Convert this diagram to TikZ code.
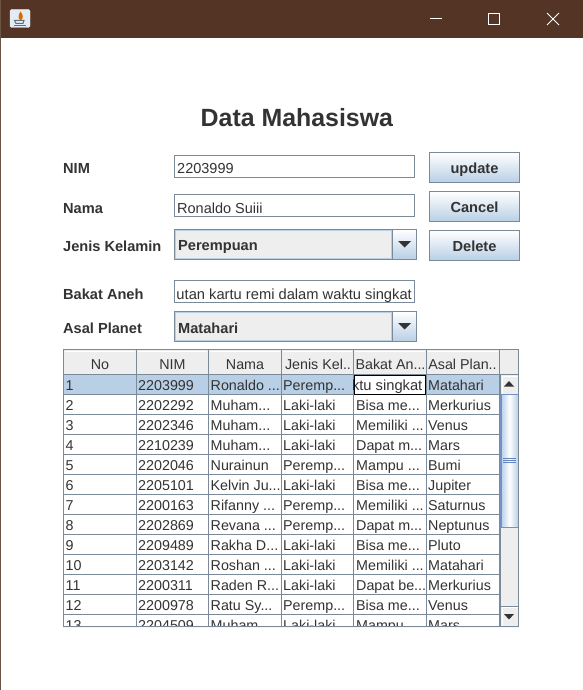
\documentclass[tikz,border=0pt]{standalone}
\usepackage{fontspec}
\setmainfont{Liberation Sans}
\usetikzlibrary{positioning}
\definecolor{barbrown}{HTML}{533425}
\definecolor{metalline}{HTML}{7A8A99}
\definecolor{metalblue}{HTML}{B8CFE5}
\definecolor{metalgray}{HTML}{EEEEEE}
\definecolor{thumbblue}{HTML}{6382BF}
\definecolor{inktext}{HTML}{333333}
\newcommand{\el}{{.}{.}{.}}
\tikzset{
  lbl/.style={inner sep=0pt, anchor=base west, text=inktext, font=\fontsize{14.6}{16}\selectfont\bfseries},
  txt/.style={inner sep=0pt, anchor=base west, text=inktext, font=\fontsize{14.3}{16}\selectfont},
  rtxt/.style={txt, anchor=base east, font=\fontsize{14.7}{16}\selectfont},
  head/.style={txt, anchor=base},
  btntxt/.style={lbl, anchor=base},
  fieldbox/.style={draw=metalline, fill=white, line width=1pt},
  gradbox/.style={draw=metalline, line width=1pt, top color=white, bottom color=metalblue},
  combobox/.style={draw=metalline, fill=metalgray, line width=1pt},
  tri/.style={fill=inktext, draw=none},
  winbtn/.style={draw=white, line width=1pt},
  grid/.style={draw=metalline, line width=1pt}
}
\begin{document}
\begin{tikzpicture}[x=1pt,y=-1pt]
  \useasboundingbox (0,0) rectangle (583,690);
  \fill[white] (0,0) rectangle (583,690);
  \fill[barbrown] (0,0) rectangle (583,38);
  \fill[barbrown!85!white] (0,0) rectangle (1,690);

  \draw[fill=metalblue!40!white, draw=white!80!metalline, rounded corners=1.5pt] (10,9.5) rectangle (30,27.5);
  \fill[orange!85!black] (20.5,11.5) .. controls (23,15) and (24,17) .. (21,20.5) .. controls (17.5,19) and (18,15) .. (20.5,11.5);
  \draw[metalline!80!black, line width=1pt] (14.5,20.5) -- (24,20.5) -- (23,23.5) -- (16,23.5) -- cycle;
  \draw[metalline!80!black, line width=.8pt] (14,25.5) -- (25.5,25.5);

  \draw[winbtn] (430,18.5) -- (442,18.5);
  \draw[winbtn] (488.5,13.5) rectangle (499.5,24.5);
  \draw[winbtn] (547,13) -- (559,25);
  \draw[winbtn] (559,13) -- (547,25);

  \node[lbl, font=\fontsize{24.9}{28}\selectfont\bfseries] (title) at (200.5,126) {Data Mahasiswa};

  \node[lbl] (lblnim) at (63,173.5) {NIM};
  \node[lbl] (lblnama) at (63,213) {Nama};
  \node[lbl] (lbljenis) at (63,251) {Jenis Kelamin};
  \node[lbl] (lblbakat) at (63,299) {Bakat Aneh};
  \node[lbl] (lblasal) at (63,333) {Asal Planet};

  \draw[fieldbox] (174.5,155.5) rectangle (414.5,177.5);
  \node[txt, font=\fontsize{14.5}{16}\selectfont] (fieldnim) at (177,173) {2203999};
  \draw[fieldbox] (174.5,194.5) rectangle (414.5,216.5);
  \node[txt, font=\fontsize{14.5}{16}\selectfont] (fieldnama) at (177,213) {Ronaldo Suiii};
  \draw[fieldbox] (174.5,280.5) rectangle (414.5,302.5);
  \node[rtxt] (fieldbakat) at (412,299) {utan kartu remi dalam waktu singkat};

  \draw[combobox] (174.5,229.5) rectangle (416.5,259.5);
  \draw[metalblue, line width=1pt] (175.5,230.5) rectangle (391.5,258.5);
  \draw[gradbox] (392.5,229.5) rectangle (416.5,259.5);
  \fill[tri] (398,241) -- (411,241) -- (404.5,247.5) -- cycle;
  \node[lbl] (combojenis) at (178,250) {Perempuan};

  \draw[combobox] (174.5,311.5) rectangle (416.5,341.5);
  \draw[metalblue, line width=1pt] (175.5,312.5) rectangle (391.5,340.5);
  \draw[gradbox] (392.5,311.5) rectangle (416.5,341.5);
  \fill[tri] (398,323) -- (411,323) -- (404.5,329.5) -- cycle;
  \node[lbl] (comboasal) at (178,333) {Matahari};

  \draw[gradbox] (429.5,152.5) rectangle (519.5,182.5);
  \node[btntxt] (btnupdate) at (474.5,173.5) {update};
  \draw[gradbox] (429.5,191.5) rectangle (519.5,221.5);
  \node[btntxt] (btncancel) at (474.5,212.5) {Cancel};
  \draw[gradbox] (429.5,230.5) rectangle (519.5,260.5);
  \node[btntxt] (btndelete) at (474.5,251) {Delete};

  \fill[metalgray] (63,350) rectangle (519,375);
  \draw[white, line width=1pt] (65,351.5) -- (135,351.5);
  \draw[white, line width=1pt] (138,351.5) -- (207,351.5);
  \draw[white, line width=1pt] (210,351.5) -- (280,351.5);
  \draw[white, line width=1pt] (283,351.5) -- (352,351.5);
  \draw[white, line width=1pt] (355,351.5) -- (425,351.5);
  \draw[white, line width=1pt] (428,351.5) -- (498,351.5);
  \node[head] (headno) at (100,369) {No};
  \node[head] (headnim) at (172.5,369) {NIM};
  \node[head] (headnama) at (245,369) {Nama};
  \node[head] (headjenis) at (318,369) {Jenis Kel..};
  \node[head] (headbakat) at (390.5,369) {Bakat An...};
  \node[head] (headasal) at (462.5,369) {Asal Plan..};

  \fill[metalblue] (63,375) rectangle (499,394.5);

  \begin{scope}
    \clip (63,375) rectangle (499,625.5);
    \foreach \r/\no/\nim/\nama/\jk/\bakat/\asal in {
      0/1/2203999/Ronaldo \el/Peremp\el/{}/Matahari,
      1/2/2202292/Muham\el/Laki-laki/Bisa me\el/Merkurius,
      2/3/2202346/Muham\el/Laki-laki/Memiliki \el/Venus,
      3/4/2210239/Muham\el/Laki-laki/Dapat m\el/Mars,
      4/5/2202046/Nurainun/Peremp\el/Mampu \el/Bumi,
      5/6/2205101/Kelvin Ju\el/Laki-laki/Bisa me\el/Jupiter,
      6/7/2200163/Rifanny \el/Peremp\el/Memiliki \el/Saturnus,
      7/8/2202869/Revana \el/Peremp\el/Dapat m\el/Neptunus,
      8/9/2209489/Rakha D\el/Laki-laki/Bisa me\el/Pluto,
      9/10/2203142/Roshan \el/Laki-laki/Memiliki \el/Matahari,
      10/11/2200311/Raden R\el/Laki-laki/Dapat be\el/Merkurius,
      11/12/2200978/Ratu Sy\el/Peremp\el/Bisa me\el/Venus,
      12/13/2204509/Muham\el/Laki-laki/Mampu \el/Mars}
    {
      \node[txt] (no\r) at (65.5,390+20*\r) {\no};
      \node[txt] (nim\r) at (138,390+20*\r) {\nim};
      \node[txt] (nama\r) at (210.5,390+20*\r) {\nama};
      \node[txt] (jk\r) at (283,390+20*\r) {\jk};
      \node[txt] (bakat\r) at (356,390+20*\r) {\bakat};
      \node[txt] (asal\r) at (428,390+20*\r) {\asal};
    }
  \end{scope}

  \foreach \r in {0,...,11}
    \draw[grid] (63,394.5+20*\r) -- (499,394.5+20*\r);
  \draw[grid] (63,374.5) -- (518,374.5);
  \foreach \c in {136.5,208.5,281.5,353.5,426.5}
    \draw[grid] (\c,350) -- (\c,626);

  \fill[white] (354,375.5) rectangle (426,394.5);
  \node[rtxt] (editbakat) at (422.5,390) {ktu singkat};
  \draw[black, line width=1pt] (354.5,375.5) rectangle (425.5,394.5);

  \fill[metalgray] (500,375) rectangle (518,626);
  \draw[metalline, line width=2pt] (500,375) -- (500,626);
  \shade[left color=metalblue, right color=metalblue, middle color=white, draw=none] (501,395) rectangle (518,527);
  \draw[thumbblue!80!metalblue, line width=1pt] (500.5,394.5) -- (518,394.5);
  \draw[thumbblue!80!metalblue, line width=1pt] (500.5,527) -- (518,527);
  \draw[thumbblue!80!metalblue, line width=2pt] (500.5,394.5) -- (500.5,527);
  \draw[thumbblue, line width=1pt] (503,458.5) -- (516,458.5);
  \draw[thumbblue, line width=1pt] (503,460.5) -- (516,460.5);
  \draw[thumbblue, line width=1pt] (503,462.5) -- (516,462.5);

  \fill[metalgray] (502,375.5) rectangle (518,393.5);
  \draw[white, line width=1pt] (502,376) -- (517.5,376);
  \draw[white, line width=1pt] (502.5,376) -- (502.5,393.5);
  \fill[tri] (504,386.5) -- (514,386.5) -- (509,381) -- cycle;
  \fill[metalgray] (502,607) rectangle (518,625.5);
  \draw[metalline, line width=1pt] (501,606.5) -- (518,606.5);
  \draw[white, line width=1pt] (502,607.5) -- (517.5,607.5);
  \draw[white, line width=1pt] (502.5,607.5) -- (502.5,625.5);
  \fill[tri] (504,614) -- (514,614) -- (509,619.5) -- cycle;

  \draw[grid] (63.5,349.5) rectangle (518.5,626);
  \draw[grid] (499,350) -- (499,375);
  \draw[metalgray!60!white, line width=1pt] (63,627.5) -- (520,627.5);
\end{tikzpicture}
\end{document}
